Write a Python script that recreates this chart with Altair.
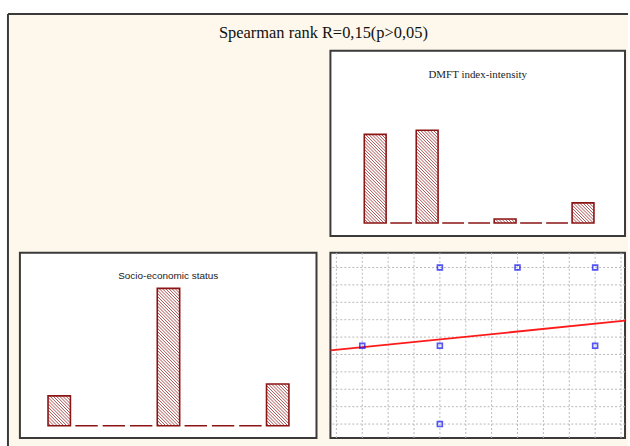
import altair as alt
import numpy as np
import pandas as pd

# ---- data -------------------------------------------------------------
bins = list(range(1, 10))
dmft_counts = [22, 0, 23, 0, 0, 1, 0, 0, 5]   # DMFT index-intensity histogram
ses_counts = [5, 0, 0, 0, 23, 0, 0, 0, 7]     # socio-economic status histogram

# scatter: DMFT intensity level (x) against socio-economic level (y)
sc_x = [1, 2, 2, 2, 3, 4, 4]
sc_y = [2, 3, 2, 1, 3, 3, 2]

# fitted straight line y = fit_a + fit_b * x
fit_a = 1.882
fit_b = 0.100

main_title = "Spearman rank R=0,15(p>0,05)"
dmft_title = "DMFT index-intensity"
ses_title = "Socio-economic status"

# ---- style ------------------------------------------------------------
CREAM = "#fdf8eb"
FRAME = "#3a3a3a"
BAR_RED = "#8b1414"
PANEL_W_L, PANEL_W_R, PANEL_H = 298, 296, 186
HATCH_STEP = 3.2  # horizontal hatch period in pixels


def hatch_segments(counts, half, xdom, ydom, w, h):
    """Diagonal (\\) hatch lines inside each bar, in data units."""
    pxx = w / (xdom[1] - xdom[0])
    pxy = h / (ydom[1] - ydom[0])
    rows = []
    for b, n in zip(bins, counts):
        if n <= 0:
            continue
        bw = 2 * half * pxx
        bh = n * pxy
        c = -bw + HATCH_STEP / 2
        while c < bh:
            x0 = max(0.0, -c)
            x1 = min(bw, bh - c)
            if x1 > x0:
                rows.append({
                    "hx": b - half + x0 / pxx,
                    "hx2": b - half + x1 / pxx,
                    "hy": n - (x0 + c) / pxy,
                    "hy2": n - (x1 + c) / pxy,
                })
            c += HATCH_STEP
    return pd.DataFrame(rows)


def histogram_panel(counts, title, xdom, ydom, half, w, h, font, size, title_y):
    df = pd.DataFrame({"bin": bins, "n": counts})
    df["x0"] = df["bin"] - half
    df["x1"] = df["bin"] + half
    xs = alt.Scale(domain=xdom, nice=False, zero=False)
    ys = alt.Scale(domain=ydom, nice=False, zero=False)
    hdf = hatch_segments(counts, half, xdom, ydom, w, h)

    hatch = alt.Chart(hdf).mark_rule(color=BAR_RED, strokeWidth=0.75).encode(
        x=alt.X("hx:Q", scale=xs, axis=None),
        x2="hx2:Q",
        y=alt.Y("hy:Q", scale=ys, axis=None),
        y2="hy2:Q",
    )
    bars = alt.Chart(df).mark_rect(
        fill="transparent", stroke=BAR_RED, strokeWidth=1.6
    ).encode(
        x=alt.X("x0:Q", scale=xs, axis=None),
        x2="x1:Q",
        y=alt.Y("n:Q", scale=ys, axis=None),
        y2=alt.datum(0),
    )
    label = alt.Chart(pd.DataFrame({"t": [title]})).mark_text(
        font=font, fontSize=size, color="#222222", align="center", baseline="middle"
    ).encode(text="t:N", x=alt.value(w / 2), y=alt.value(title_y))
    return alt.layer(hatch, bars, label).properties(width=w, height=h)


dmft_panel = histogram_panel(
    dmft_counts, dmft_title, [-0.724, 10.617], [-3.21, 42.72], 0.42,
    PANEL_W_R, PANEL_H, "Liberation Serif", 11, 24,
)
ses_panel = histogram_panel(
    ses_counts, ses_title, [-0.44, 10.42], [-2.05, 28.95], 0.41,
    PANEL_W_L, PANEL_H, "Liberation Sans", 10, 23,
)

# ---- scatter with fitted line and dotted grid ------------------------
sx_dom = [0.59, 4.385]
sy_dom = [0.822, 3.187]
grid_x = [round(v, 4) for v in np.arange(2, 14) / 3]          # every 1/3 level
grid_y = [round(v, 4) for v in 1 + np.arange(0, 10) * 2 / 9]  # 9 steps from 1 to 3

sdf = pd.DataFrame({"x": sc_x, "y": sc_y})
ldf = pd.DataFrame({"x": sx_dom})
ldf["y"] = fit_a + fit_b * ldf["x"]

sxs = alt.Scale(domain=sx_dom, nice=False, zero=False)
sys_ = alt.Scale(domain=sy_dom, nice=False, zero=False)
GRID = dict(color="#b8b8b8", strokeWidth=1, strokeDash=[2, 2])

vgrid = alt.Chart(pd.DataFrame({"gx": grid_x})).mark_rule(**GRID).encode(
    x=alt.X("gx:Q", scale=sxs, axis=None)
)
hgrid = alt.Chart(pd.DataFrame({"gy": grid_y})).mark_rule(**GRID).encode(
    y=alt.Y("gy:Q", scale=sys_, axis=None)
)
fit_line = alt.Chart(ldf).mark_line(color="#ff1a1a", strokeWidth=1.8, clip=True).encode(
    x=alt.X("x:Q", scale=sxs, axis=None),
    y=alt.Y("y:Q", scale=sys_, axis=None),
)
points = alt.Chart(sdf).mark_point(
    shape="square", size=24, filled=False, color="#1010f0", strokeWidth=1.7
).encode(
    x=alt.X("x:Q", scale=sxs, axis=None),
    y=alt.Y("y:Q", scale=sys_, axis=None),
)
scatter_panel = alt.layer(vgrid, hgrid, fit_line, points).properties(
    width=PANEL_W_R, height=PANEL_H
)

# ---- outer frame and overall title (empty top-left cell) -------------
one = pd.DataFrame({"t": [main_title]})
frame_fill = alt.Chart(one).mark_rect(color=CREAM).encode(
    x=alt.value(-12), x2=alt.value(611), y=alt.value(-37), y2=alt.value(397)
)
frame_top = alt.Chart(one).mark_rule(color=FRAME, strokeWidth=2).encode(
    x=alt.value(-12), x2=alt.value(611), y=alt.value(-37)
)
frame_left = alt.Chart(one).mark_rule(color=FRAME, strokeWidth=2).encode(
    x=alt.value(-12), y=alt.value(-37), y2=alt.value(397)
)
heading = alt.Chart(one).mark_text(
    font="Liberation Serif", fontSize=16.5, color="#111111",
    align="center", baseline="alphabetic",
).encode(text="t:N", x=alt.value(305), y=alt.value(-13))

corner = alt.layer(frame_fill, frame_top, frame_left, heading).properties(
    width=PANEL_W_L, height=PANEL_H,
    view=alt.ViewBackground(stroke="transparent", fill="transparent"),
)

chart = alt.concat(
    corner, dmft_panel, ses_panel, scatter_panel,
    columns=2,
    spacing={"row": 17, "column": 14},
    bounds="flush",
).properties(
    padding={"left": 6, "top": 11, "right": 0, "bottom": 0},
    background="white",
).configure_view(
    stroke=FRAME, strokeWidth=2, fill="white"
)

chart.save("out.html", embed_options={"renderer": "svg", "actions": False})
